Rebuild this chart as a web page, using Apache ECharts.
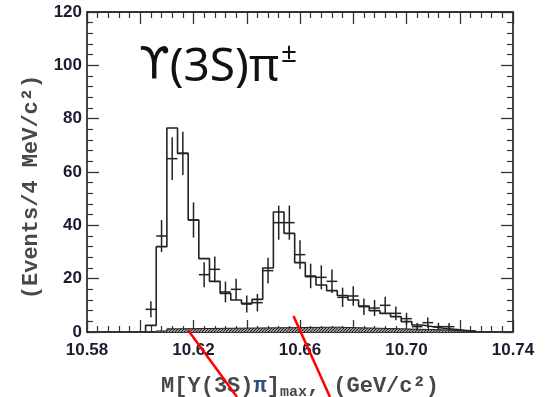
<!DOCTYPE html>
<html>
<head>
<meta charset="utf-8">
<script src="https://cdn.jsdelivr.net/npm/echarts@6/dist/echarts.min.js"></script>
<style>
  html, body { margin: 0; padding: 0; background: #fff; }
  #main { width: 550px; height: 397px; }
</style>
</head>
<body>
<div id="main"></div>
<script>
// 4 MeV bins
const binWidth = 0.004

// fit histogram: left bin edges and heights
const fitEdges = [10.602, 10.606, 10.610, 10.614, 10.618, 10.622, 10.626, 10.630, 10.634, 10.638,
  10.642, 10.646, 10.650, 10.654, 10.658, 10.662, 10.666, 10.670, 10.674, 10.678,
  10.682, 10.686, 10.690, 10.694, 10.698, 10.702, 10.706, 10.710, 10.714, 10.718, 10.722, 10.726]
const fitValues = [2.5, 32, 76.5, 67, 42, 27.5, 19, 14.5, 12, 10.75,
  12.25, 24, 45, 37, 26, 20.75, 17.6, 15.5, 13.7, 12,
  9.75, 8, 7, 5.75, 3.9, 2.6, 2, 1.4, 1.0, 0.6, 0.3, 0]

// data points: bin centres, counts, errors
const dataMass = [10.604, 10.608, 10.612, 10.616, 10.620, 10.624, 10.628, 10.632, 10.636, 10.640,
  10.644, 10.648, 10.652, 10.656, 10.660, 10.664, 10.668, 10.672, 10.676, 10.680,
  10.684, 10.688, 10.692, 10.696, 10.700, 10.704, 10.708, 10.712, 10.716]
const dataCounts = [8.5, 36, 65, 67, 42, 21.5, 23.5, 15, 16, 10.5,
  11, 23, 41, 41, 29, 21, 20.5, 19, 13, 13.5,
  9.5, 9, 10, 7, 5, 2, 3.5, 2, 2]
const dataErrors = [3, 6, 8, 8.1, 6.6, 4.7, 4.8, 3.9, 4, 3.2,
  3.3, 4.8, 6.4, 6.4, 5.4, 4.6, 4.5, 4.4, 3.6, 3.7,
  3.1, 3, 3.2, 2.6, 2.2, 1.4, 1.9, 1.4, 1.4]

// hatched background
const bkgEdges = [10.606, 10.610, 10.614, 10.674, 10.694, 10.714, 10.726]
const bkgValues = [0.4, 1.2, 1.8, 1.3, 0.8, 0.4, 0]

const xTicks = { min: 10.58, max: 10.74, step: 0.02 }
const yTicks = { min: 0, max: 120, step: 20 }

function hatch () {
  const c = document.createElement('canvas')
  c.width = 3
  c.height = 3
  const ctx = c.getContext('2d')
  ctx.fillStyle = '#999'
  ctx.fillRect(0, 0, 3, 3)
  ctx.fillStyle = '#222'
  ctx.fillRect(0, 2, 1, 1)
  ctx.fillRect(1, 1, 1, 1)
  ctx.fillRect(2, 0, 1, 1)
  return c
}

const axisCol = '#333'
const labelFont = { fontFamily: 'Liberation Sans', fontWeight: 'bold', fontSize: 17, color: '#1c1c30' }

function frameAxis (pos, isX, show) {
  const ax = {
    type: 'value',
    position: pos,
    min: isX ? xTicks.min : yTicks.min,
    max: isX ? xTicks.max : yTicks.max,
    interval: isX ? xTicks.step : yTicks.step,
    axisLine: { show: true, onZero: false, lineStyle: { color: axisCol, width: 1.8 } },
    axisTick: { show: true, inside: true, length: 12, lineStyle: { color: axisCol, width: 1.3 } },
    minorTick: { show: true, splitNumber: 5, length: 6, lineStyle: { color: axisCol, width: 1.2 } },
    splitLine: { show: false },
    minorSplitLine: { show: false },
    axisLabel: { show: false }
  }
  if (show) {
    ax.axisLabel = Object.assign({ show: true, margin: isX ? 10 : 5 }, labelFont)
    if (isX) {
      ax.axisLabel.formatter = v => (Math.round(v * 100) % 4 === 2 ? v.toFixed(2) : '')
    }
  }
  return ax
}

const xBottom = frameAxis('bottom', true, true)
xBottom.name = 'M[Y(3S){pi|π}]{sub|max}, (GeV/c²)'
xBottom.nameLocation = 'middle'
xBottom.nameGap = 41
xBottom.nameTextStyle = {
  fontFamily: 'Liberation Mono', fontWeight: 'bold', fontSize: 22, color: '#484848',
  rich: {
    pi: { fontFamily: 'Liberation Mono', fontWeight: 'bold', fontSize: 22, color: '#34507a' },
    sub: { fontFamily: 'Liberation Mono', fontWeight: 'bold', fontSize: 15, color: '#484848', padding: [12, 0, 0, 0] }
  }
}
const yLeft = frameAxis('left', false, true)
yLeft.name = '(Events/4 MeV/c²)'
yLeft.nameLocation = 'middle'
yLeft.nameGap = 45
yLeft.nameTextStyle = { fontFamily: 'Liberation Mono', fontWeight: 'bold', fontSize: 22, color: '#484848', padding: [0, 30, 0, 0] }

const chart = echarts.init(document.getElementById('main'))
const option = {
  animation: false,
  backgroundColor: '#fff',
  grid: { left: 87, right: 37, top: 12, bottom: 65, outerBoundsMode: 'none' },
  title: {
    text: '{u|ϒ}{a|(3S)π}{b|±}',
    left: 134,
    top: 35,
    textStyle: {
      fontWeight: 'normal',
      rich: {
        u: { fontFamily: 'DejaVu Sans', fontWeight: 'normal', fontSize: 44, color: '#111', lineHeight: 56 },
        a: { fontFamily: 'Noto Sans', fontWeight: 'normal', fontSize: 46, color: '#111', lineHeight: 56 },
        b: { fontFamily: 'Noto Sans', fontWeight: 'normal', fontSize: 28, color: '#111', verticalAlign: 'top', lineHeight: 56, padding: [0, 0, 22, 2] }
      }
    }
  },
  xAxis: [xBottom, frameAxis('top', true, false)],
  yAxis: [yLeft, frameAxis('right', false, false)],
  series: [
    {
      type: 'line',
      step: 'end',
      symbol: 'none',
      data: bkgEdges.map((e, i) => [e, bkgValues[i]]),
      lineStyle: { color: '#222', width: 1 },
      areaStyle: { color: { image: hatch(), repeat: 'repeat' }, opacity: 1 },
      z: 2
    },
    {
      type: 'line',
      step: 'end',
      symbol: 'none',
      data: [[fitEdges[0], 0]].concat(fitEdges.map((e, i) => [e, fitValues[i]])),
      lineStyle: { color: '#222', width: 1.6 },
      z: 3
    },
    {
      type: 'custom',
      encode: { x: 0, y: 1 },
      data: dataMass.map((m, i) => [m, dataCounts[i], dataErrors[i]]),
      renderItem (params, api) {
        const x = api.value(0)
        const y = api.value(1)
        const e = api.value(2)
        const l = api.coord([x - binWidth / 2, y])
        const r = api.coord([x + binWidth / 2, y])
        const t = api.coord([x, y + e])
        const b = api.coord([x, y - e])
        const st = { stroke: '#222', lineWidth: 1.5 }
        return {
          type: 'group',
          children: [
            { type: 'line', shape: { x1: l[0], y1: l[1], x2: r[0], y2: r[1] }, style: st },
            { type: 'line', shape: { x1: t[0], y1: t[1], x2: b[0], y2: b[1] }, style: st }
          ]
        }
      },
      z: 4
    }
  ],
  // red annotation strokes drawn over the picture
  graphic: [
    { type: 'line', z: 100, shape: { x1: 188, y1: 330, x2: 237, y2: 397 }, style: { stroke: '#ff0000', lineWidth: 2.5 } },
    { type: 'line', z: 100, shape: { x1: 293.5, y1: 316, x2: 330, y2: 397 }, style: { stroke: '#ff0000', lineWidth: 2.5 } }
  ]
}
chart.setOption(option)
</script>
</body>
</html>
